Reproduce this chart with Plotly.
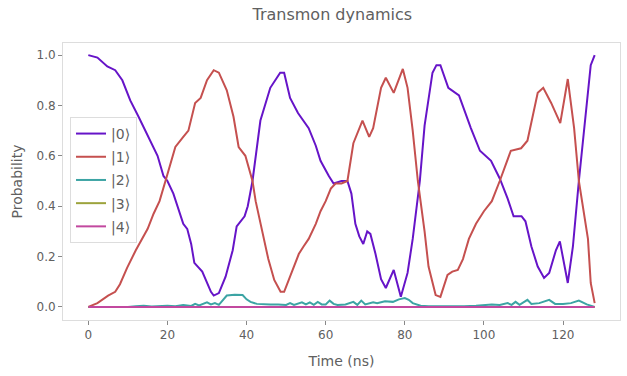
import plotly.graph_objects as go

# |0> population
t0 = [0, 2.3, 4.8, 6.8, 8.6, 10.6, 12.7, 15.7, 17.5, 19, 20, 21.5, 23, 24, 25, 26, 26.8, 28.8, 31, 31.7, 33, 34.7,
      36.5, 37.5, 39.5, 40.3, 41.5, 43.5, 46, 48.5, 49.5, 51, 53, 55.7, 57.5, 58.7, 60.8, 62, 64, 65.5, 66.5, 67.5,
      68.5, 69.5, 70.5, 71.3, 72.6, 74, 75.2, 77.2, 79, 80.7, 82, 83.8, 85, 87, 88, 89, 91, 93.7, 96.7, 99, 101.8,
      104, 106, 107.5, 109.5, 110.5, 112, 113.6, 115.2, 116.5, 118.2, 119.2, 121.2, 122.5, 124, 126.3, 127, 128]
p0 = [1.0, 0.99, 0.955, 0.94, 0.9, 0.82, 0.755, 0.66, 0.6, 0.52, 0.5, 0.45, 0.38, 0.33, 0.31, 0.25, 0.175, 0.14,
      0.06, 0.045, 0.055, 0.12, 0.225, 0.32, 0.36, 0.4, 0.5, 0.74, 0.87, 0.93, 0.93, 0.83, 0.77, 0.71, 0.64, 0.58,
      0.52, 0.49, 0.5, 0.5, 0.45, 0.33, 0.28, 0.25, 0.3, 0.29, 0.21, 0.11, 0.075, 0.147, 0.04, 0.135, 0.27, 0.5,
      0.72, 0.93, 0.96, 0.96, 0.87, 0.84, 0.71, 0.62, 0.58, 0.51, 0.43, 0.36, 0.36, 0.34, 0.24, 0.16, 0.115, 0.135,
      0.225, 0.26, 0.095, 0.24, 0.5, 0.86, 0.96, 1.0]

# |1> population
t1 = [0, 2.3, 5, 6.8, 8, 9.8, 12, 13.6, 15, 16.5, 18, 19.5, 22, 24, 25.3, 27, 28.4, 30, 31.7, 33, 35, 36.7, 38,
      39.7, 41.5, 42.3, 43.5, 44.3, 45.5, 47, 48.6, 49.5, 51, 53.2, 54.4, 55.7, 57.5, 58.7, 60, 61.3, 62.5, 64,
      65.5, 67, 69.3, 71, 72, 74, 75.2, 77.2, 79.5, 80.7, 82, 83.3, 85, 86, 87.8, 89, 90.8, 92, 93.4, 94.7, 96.2,
      98, 100, 102, 104, 106.8, 109.4, 111, 113.6, 115, 117, 118.7, 119.3, 121.2, 122.8, 124, 126.3, 127, 128]
p1 = [0, 0.015, 0.045, 0.06, 0.09, 0.155, 0.225, 0.27, 0.31, 0.37, 0.42, 0.5, 0.635, 0.675, 0.7, 0.81, 0.83, 0.9,
      0.94, 0.93, 0.86, 0.755, 0.635, 0.6, 0.5, 0.42, 0.33, 0.27, 0.19, 0.107, 0.06, 0.06, 0.12, 0.21, 0.24, 0.27,
      0.33, 0.38, 0.42, 0.47, 0.49, 0.49, 0.5, 0.65, 0.74, 0.675, 0.71, 0.87, 0.91, 0.85, 0.945, 0.87, 0.7, 0.5,
      0.3, 0.16, 0.047, 0.04, 0.127, 0.14, 0.147, 0.19, 0.27, 0.33, 0.38, 0.42, 0.5, 0.62, 0.63, 0.66, 0.85, 0.87,
      0.81, 0.75, 0.73, 0.905, 0.71, 0.5, 0.27, 0.095, 0.015]

# |2> population
t2 = [0, 10, 12, 14, 16, 18, 20, 22, 24, 26, 27, 28, 30, 31, 32, 33, 34, 35, 37, 39, 40, 41, 42.6, 44, 46, 48, 50,
      51, 52, 54, 55, 56, 57, 58, 59, 60, 61, 62, 63, 65, 67, 68, 69, 70, 72, 73, 75, 77, 78.5, 80, 81, 82, 84, 86,
      90, 95, 98, 100, 102, 104, 106, 107, 108, 109, 111, 112, 114, 116.5, 118, 120, 122, 124, 126, 128]
p2 = [0, 0, 0.003, 0.005, 0.002, 0.004, 0.005, 0.003, 0.008, 0.004, 0.012, 0.006, 0.018, 0.01, 0.015, 0.008, 0.025,
      0.045, 0.048, 0.047, 0.03, 0.02, 0.012, 0.01, 0.01, 0.01, 0.008, 0.015, 0.008, 0.018, 0.01, 0.018, 0.008,
      0.02, 0.01, 0.01, 0.025, 0.012, 0.008, 0.01, 0.02, 0.008, 0.025, 0.01, 0.018, 0.015, 0.022, 0.02, 0.03,
      0.035, 0.028, 0.015, 0.005, 0.003, 0.002, 0.003, 0.005, 0.008, 0.01, 0.008, 0.015, 0.008, 0.02, 0.008,
      0.028, 0.012, 0.015, 0.028, 0.012, 0.012, 0.015, 0.025, 0.01, 0]

# |3> and |4> populations
t34 = [0, 32, 64, 96, 128]
p3 = [0, 0, 0, 0, 0]
p4 = [0, 0, 0, 0, 0]

labels = ["|0⟩", "|1⟩", "|2⟩", "|3⟩", "|4⟩"]
colors = ["#6614c8", "#c5504f", "#3ca4a4", "#9ca33c", "#c2489f"]

series = [(t0, p0), (t1, p1), (t2, p2), (t34, p3), (t34, p4)]

FONT = "DejaVu Sans"
TXT = "#606060"

fig = go.Figure()
for i, ((tx, py), lab, col) in enumerate(zip(series, labels, colors)):
    fig.add_trace(go.Scatter(x=tx, y=py, mode="lines", name=lab, legendgroup=str(i),
                             line=dict(color=col, width=2)))

axis_common = dict(showline=True, mirror=True, linecolor="#dddddd", linewidth=1, automargin=False,
                   ticks="outside", ticklen=4, tickcolor="#888888", showgrid=False,
                   zeroline=False, tickfont=dict(family=FONT, size=12, color=TXT))

fig.update_layout(
    width=627, height=376,
    margin=dict(l=63, r=7, t=43, b=56),
    paper_bgcolor="white", plot_bgcolor="white",
    font=dict(family=FONT, color=TXT),
    title=dict(text="Transmon dynamics", x=0.53, xanchor="center", y=0.963, yanchor="middle",
               font=dict(family=FONT, size=16, color=TXT), automargin=False),
    xaxis=dict(range=[-6.4, 134.4], tickvals=[0, 20, 40, 60, 80, 100, 120],
               title=dict(text="Time (ns)", standoff=14, font=dict(family=FONT, size=14, color=TXT)),
               **axis_common),
    yaxis=dict(range=[-0.052, 1.048], tickvals=[0, 0.2, 0.4, 0.6, 0.8, 1.0],
               ticktext=["0.0", "0.2", "0.4", "0.6", "0.8", "1.0"],
               title=dict(text="Probability", standoff=10, font=dict(family=FONT, size=14, color=TXT)),
               **axis_common),
    legend=dict(x=0.0126, y=0.733, xanchor="left", yanchor="top", bgcolor="white",
                bordercolor="#dddddd", borderwidth=1, font=dict(family=FONT, size=14, color=TXT),
                traceorder="grouped", tracegroupgap=2, itemwidth=30),
    showlegend=True,
)

fig.write_html("out.html", config={"displayModeBar": False},
               post_script="document.body.style.margin='0';")
